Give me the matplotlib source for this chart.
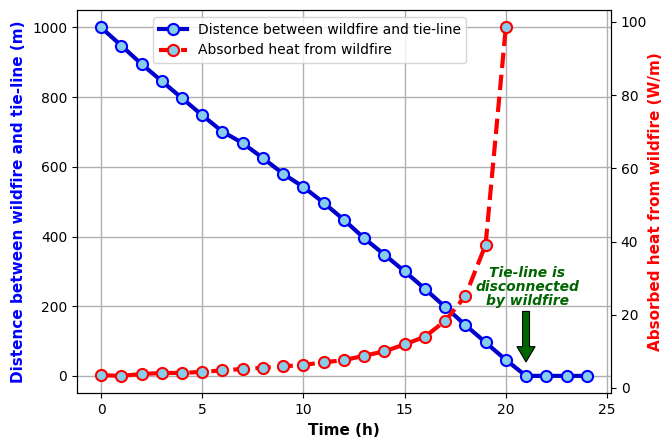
import matplotlib
matplotlib.use("Agg")
import matplotlib.pyplot as plt

# data
hours = list(range(25))
distance_m = [1000, 948, 895, 846, 797, 748, 701, 668, 625, 580,
              542, 497, 448, 395, 348, 300, 250, 198, 146, 96,
              46, 0, 0, 0, 0]
heat_hours = list(range(21))
heat_wm = [3.5, 3.3, 3.8, 4.1, 4.1, 4.4, 4.8, 5.2, 5.5, 5.9,
           6.3, 7.0, 7.6, 8.8, 10.0, 11.9, 14.0, 18.3, 25.1, 39.1,
           98.5]

fig, ax1 = plt.subplots(figsize=(6.62, 4.37), dpi=100)
fig.subplots_adjust(left=0.116, right=0.923, top=0.977, bottom=0.10)

ax1.plot(hours, distance_m, color="mediumblue", lw=3, marker="o",
         markersize=8, markerfacecolor="skyblue", markeredgecolor="blue",
         markeredgewidth=1.5, label="Distence between wildfire and tie-line")
ax1.set_xlabel("Time (h)", fontsize=11, fontweight="bold")
ax1.set_ylabel("Distence between wildfire and tie-line (m)", fontsize=11,
               fontweight="bold", color="blue")
ax1.grid(True, color="#b0b0b0", lw=1)
ax1.set_xticks([0, 5, 10, 15, 20, 25])

ax2 = ax1.twinx()
ax2.plot(heat_hours, heat_wm, color="red", lw=3, ls="--", marker="o",
         markersize=8, markerfacecolor="skyblue", markeredgecolor="red",
         markeredgewidth=1.5, label="Absorbed heat from wildfire")
ax2.set_ylabel("Absorbed heat from wildfire (W/m)", fontsize=11,
               fontweight="bold", color="red", labelpad=0.5)

# annotation for the disconnection
ax1.annotate("", xy=(21, 40), xytext=(21, 185),
             arrowprops=dict(facecolor="darkgreen", edgecolor="black",
                             width=5, headwidth=13, headlength=11, lw=0.8))
ax1.text(21.05, 256, "Tie-line is\ndisconnected\nby wildfire",
         ha="center", va="center", fontsize=10, fontweight="bold",
         style="italic", color="darkgreen", linespacing=1.0)

h1, l1 = ax1.get_legend_handles_labels()
h2, l2 = ax2.get_legend_handles_labels()
ax2.legend(h1 + h2, l1 + l2, loc="upper left", bbox_to_anchor=(0.13, 1.0),
           fontsize=10)

fig.savefig("out.png", dpi=100)
